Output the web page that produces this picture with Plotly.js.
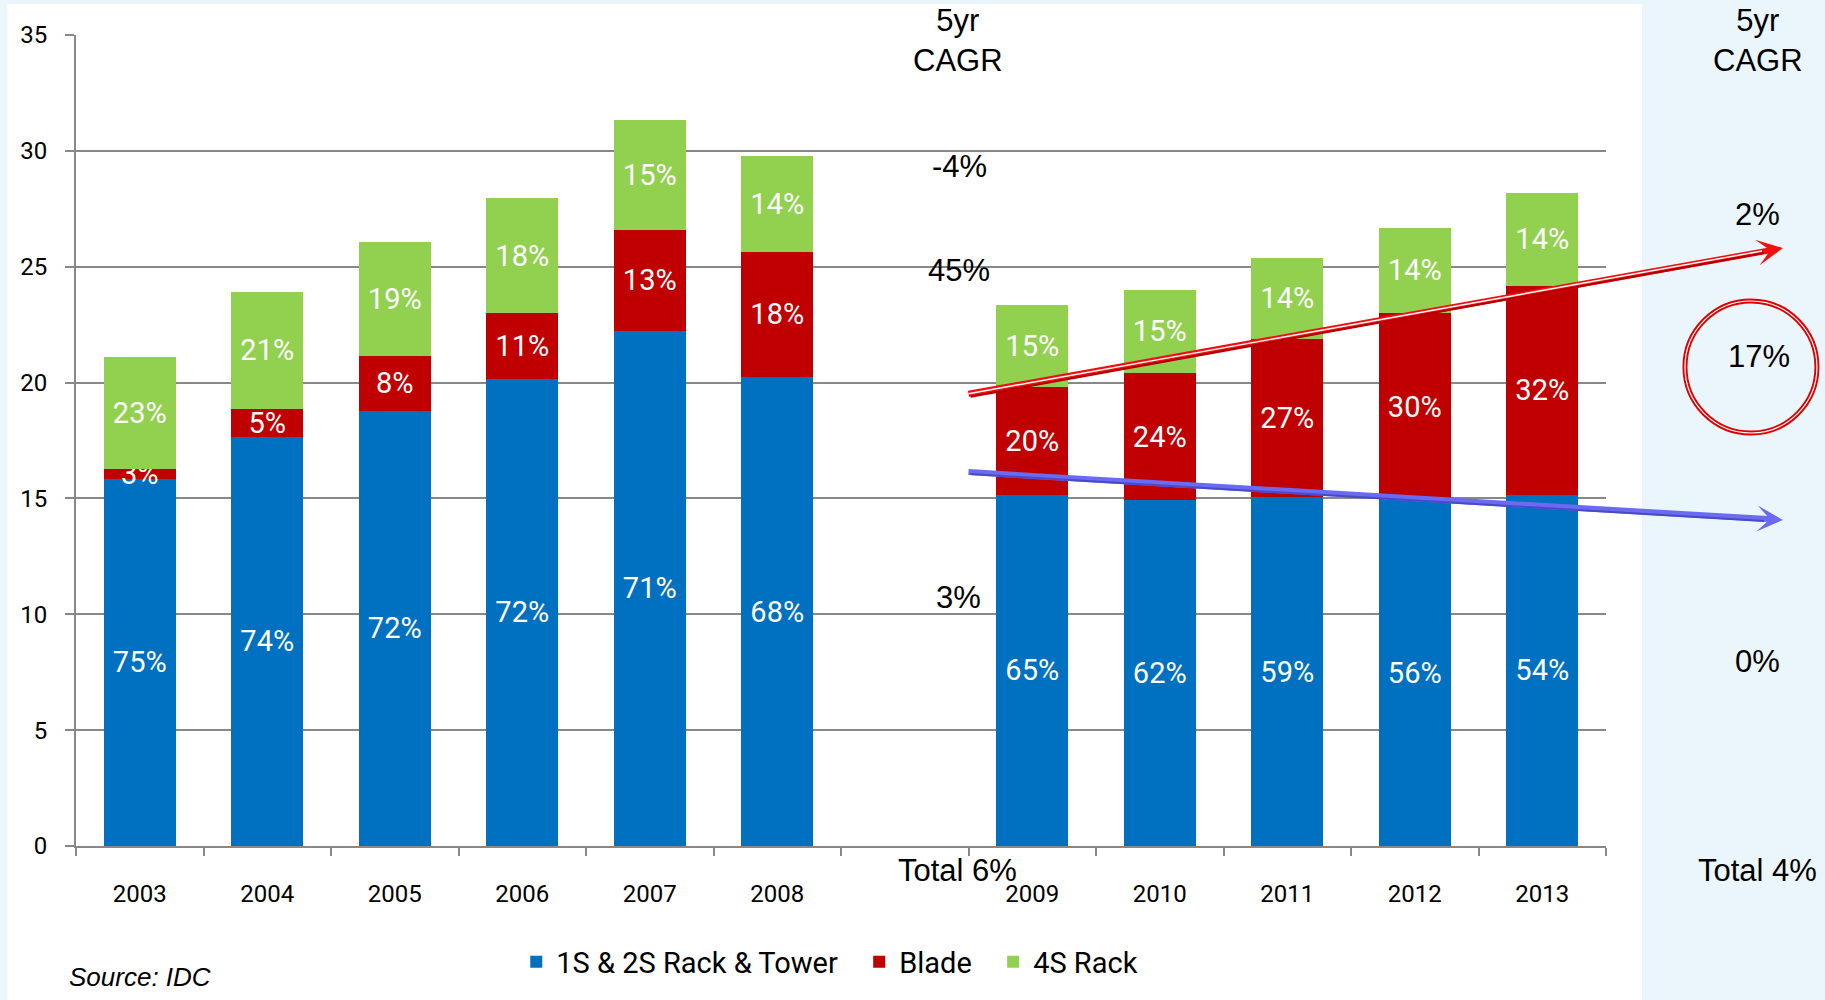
<!DOCTYPE html>
<html>
<head>
<meta charset="utf-8">
<script src="https://cdn.plot.ly/plotly-3.0.1.min.js"></script>
<style>
html,body{margin:0;padding:0;background:#EAF6FC;}
#chart{width:1825px;height:1000px;}
</style>
</head>
<body>
<div id="chart"></div>
<script>
// ---- data ----
const years = ['2003','2004','2005','2006','2007','2008','2009','2010','2011','2012','2013'];
const axisCategories = ['2003','2004','2005','2006','2007','2008',' ','2009','2010','2011','2012','2013'];
const seriesNames = ['1S & 2S Rack & Tower','Blade','4S Rack'];
const rackTower = [15.84,17.67,18.79,20.16,22.23,20.24,15.15,14.93,15.05,14.94,15.15];
const blade     = [0.42,1.18,2.37,2.83,4.37,5.41,4.65,5.47,6.82,8.05,9.03];
const fourS     = [4.83,5.07,4.92,4.98,4.73,4.13,3.54,3.61,3.52,3.70,3.99];
const rackTowerLabels = ['75%','74%','72%','72%','71%','68%','65%','62%','59%','56%','54%'];
const bladeLabels     = ['3%','5%','8%','11%','13%','18%','20%','24%','27%','30%','32%'];
const fourSLabels     = ['23%','21%','19%','18%','15%','14%','15%','15%','14%','14%','14%'];
const cagrHeader = '5yr<br>CAGR';
const cagr2003to2008 = ['-4%','45%','3%','Total 6%'];   // 4S Rack, Blade, 1S&2S, Total
const cagr2008to2013 = ['2%','17%','0%','Total 4%'];
const sourceNote = 'Source: IDC';
const colors = ['#0070C0','#C00000','#92D050'];

// ---- geometry helpers (pixel -> paper) ----
const W = 1825, H = 1000, L = 75.6, R = 1606, T = 35, B = 846;
const px = x => (x - L) / (R - L);
const py = y => (B - y) / (B - T);

const labelFont = {family:'Roboto', size:29, color:'#FFFFFF'};
function barTrace(name, vals, labels, color, legendId){
  return {
    type:'bar', name:name, x:years, y:vals, text:labels,
    textposition:'inside', insidetextanchor:'middle', textangle:0,
    constraintext:'none', textfont:labelFont, legend:legendId,
    marker:{color:color, line:{width:0}}, hoverinfo:'x+y+name'
  };
}
const data = [
  barTrace(seriesNames[0], rackTower, rackTowerLabels, colors[0], 'legend'),
  barTrace(seriesNames[1], blade, bladeLabels, colors[1], 'legend2'),
  barTrace(seriesNames[2], fourS, fourSLabels, colors[2], 'legend3')
];

const cagrFont = {family:'Liberation Sans, Arial', size:31, color:'#000'};
function note(text, x, y, extra){
  return Object.assign({text:text, x:px(x), y:py(y), xref:'paper', yref:'paper',
    xanchor:'center', yanchor:'middle', showarrow:false, font:cagrFont, align:'center'}, extra||{});
}
const annotations = [
  note(cagrHeader, 958, 40),
  note(cagr2003to2008[0], 959, 167),
  note(cagr2003to2008[1], 959, 270),
  note(cagr2003to2008[2], 958, 597),
  note(cagr2003to2008[3], 957, 870),
  note(cagrHeader, 1758, 40),
  note(cagr2008to2013[0], 1758, 215),
  note(cagr2008to2013[1], 1759, 356),
  note(cagr2008to2013[2], 1758, 661),
  note(cagr2008to2013[3], 1758, 870),
  note('<i>' + sourceNote + '</i>', 67, 977, {xanchor:'left', font:{family:'Liberation Sans, Arial', size:26, color:'#000'}}),
  // red trend arrow (double line: bright top, dark bottom, white middle)
  {x:px(1783), y:py(248), xref:'paper', yref:'paper', ax:967-1783, ay:394-248, text:'',
   showarrow:true, arrowhead:3, arrowsize:0.72, arrowwidth:6, arrowcolor:'#F01010', standoff:0, startstandoff:0},
  {x:px(1764), y:py(253), xref:'paper', yref:'paper', ax:969-1764, ay:397-253, text:'',
   showarrow:true, arrowhead:0, arrowwidth:2, arrowcolor:'#B00000', standoff:0, startstandoff:0},
  {x:px(1762), y:py(251), xref:'paper', yref:'paper', ax:967-1762, ay:394-251, text:'',
   showarrow:true, arrowhead:0, arrowwidth:1.4, arrowcolor:'#FFFFFF', standoff:0, startstandoff:0},
  // blue trend arrow
  {x:px(1783), y:py(520), xref:'paper', yref:'paper', ax:967-1783, ay:472-520, text:'',
   showarrow:true, arrowhead:3, arrowsize:0.72, arrowwidth:6, arrowcolor:'#6A6AF2', standoff:0, startstandoff:0},
  {x:px(1764), y:py(521), xref:'paper', yref:'paper', ax:969-1764, ay:474-521, text:'',
   showarrow:true, arrowhead:0, arrowwidth:2, arrowcolor:'#4A4AC8', standoff:0, startstandoff:0}
];

const shapes = [
  {type:'rect', xref:'paper', yref:'paper', x0:px(7), x1:px(1642), y0:py(1000), y1:py(4),
   fillcolor:'#FFFFFF', line:{width:0}, layer:'below'},
  {type:'circle', xref:'paper', yref:'paper', x0:px(1685), x1:px(1817), y0:py(433), y1:py(301),
   line:{color:'#E00000', width:5}, fillcolor:'rgba(0,0,0,0)'},
  {type:'circle', xref:'paper', yref:'paper', x0:px(1685), x1:px(1817), y0:py(433), y1:py(301),
   line:{color:'#FFFFFF', width:1.2}, fillcolor:'rgba(0,0,0,0)'}
];

const legendBase = {orientation:'h', xanchor:'left', y:py(962), yanchor:'middle',
  font:{family:'Roboto', size:29, color:'#000'}, bgcolor:'rgba(0,0,0,0)', traceorder:'normal'};

const layout = {
  width:W, height:H,
  margin:{l:L, r:W-R, t:T, b:H-B, pad:0},
  paper_bgcolor:'#EAF6FC', plot_bgcolor:'rgba(0,0,0,0)',
  barmode:'stack', bargap:0.435,
  font:{family:'Roboto', color:'#000'},
  showlegend:true,
  xaxis:{type:'category', categoryorder:'array', categoryarray:axisCategories, range:[-0.5,11.5],
    tickson:'boundaries', ticks:'outside', ticklen:8, tickwidth:2, tickcolor:'#888',
    showline:true, linecolor:'#888', linewidth:2, showgrid:false, zeroline:false,
    tickfont:{family:'Roboto', size:24, color:'#000'}, ticklabelstandoff:25, fixedrange:true},
  yaxis:{range:[0,35], tick0:0, dtick:5, ticks:'outside', ticklen:9, tickwidth:2, tickcolor:'#888',
    showline:true, linecolor:'#888', linewidth:2, showgrid:true, gridcolor:'#888', gridwidth:2,
    zeroline:false, tickfont:{family:'Roboto', size:24, color:'#000'}, ticklabelstandoff:13, fixedrange:true},
  legend:Object.assign({}, legendBase, {x:px(516)}),
  legend2:Object.assign({}, legendBase, {x:px(859)}),
  legend3:Object.assign({}, legendBase, {x:px(993)}),
  shapes:shapes,
  annotations:annotations
};

Plotly.newPlot('chart', data, layout, {displayModeBar:false, staticPlot:true});
</script>
</body>
</html>
